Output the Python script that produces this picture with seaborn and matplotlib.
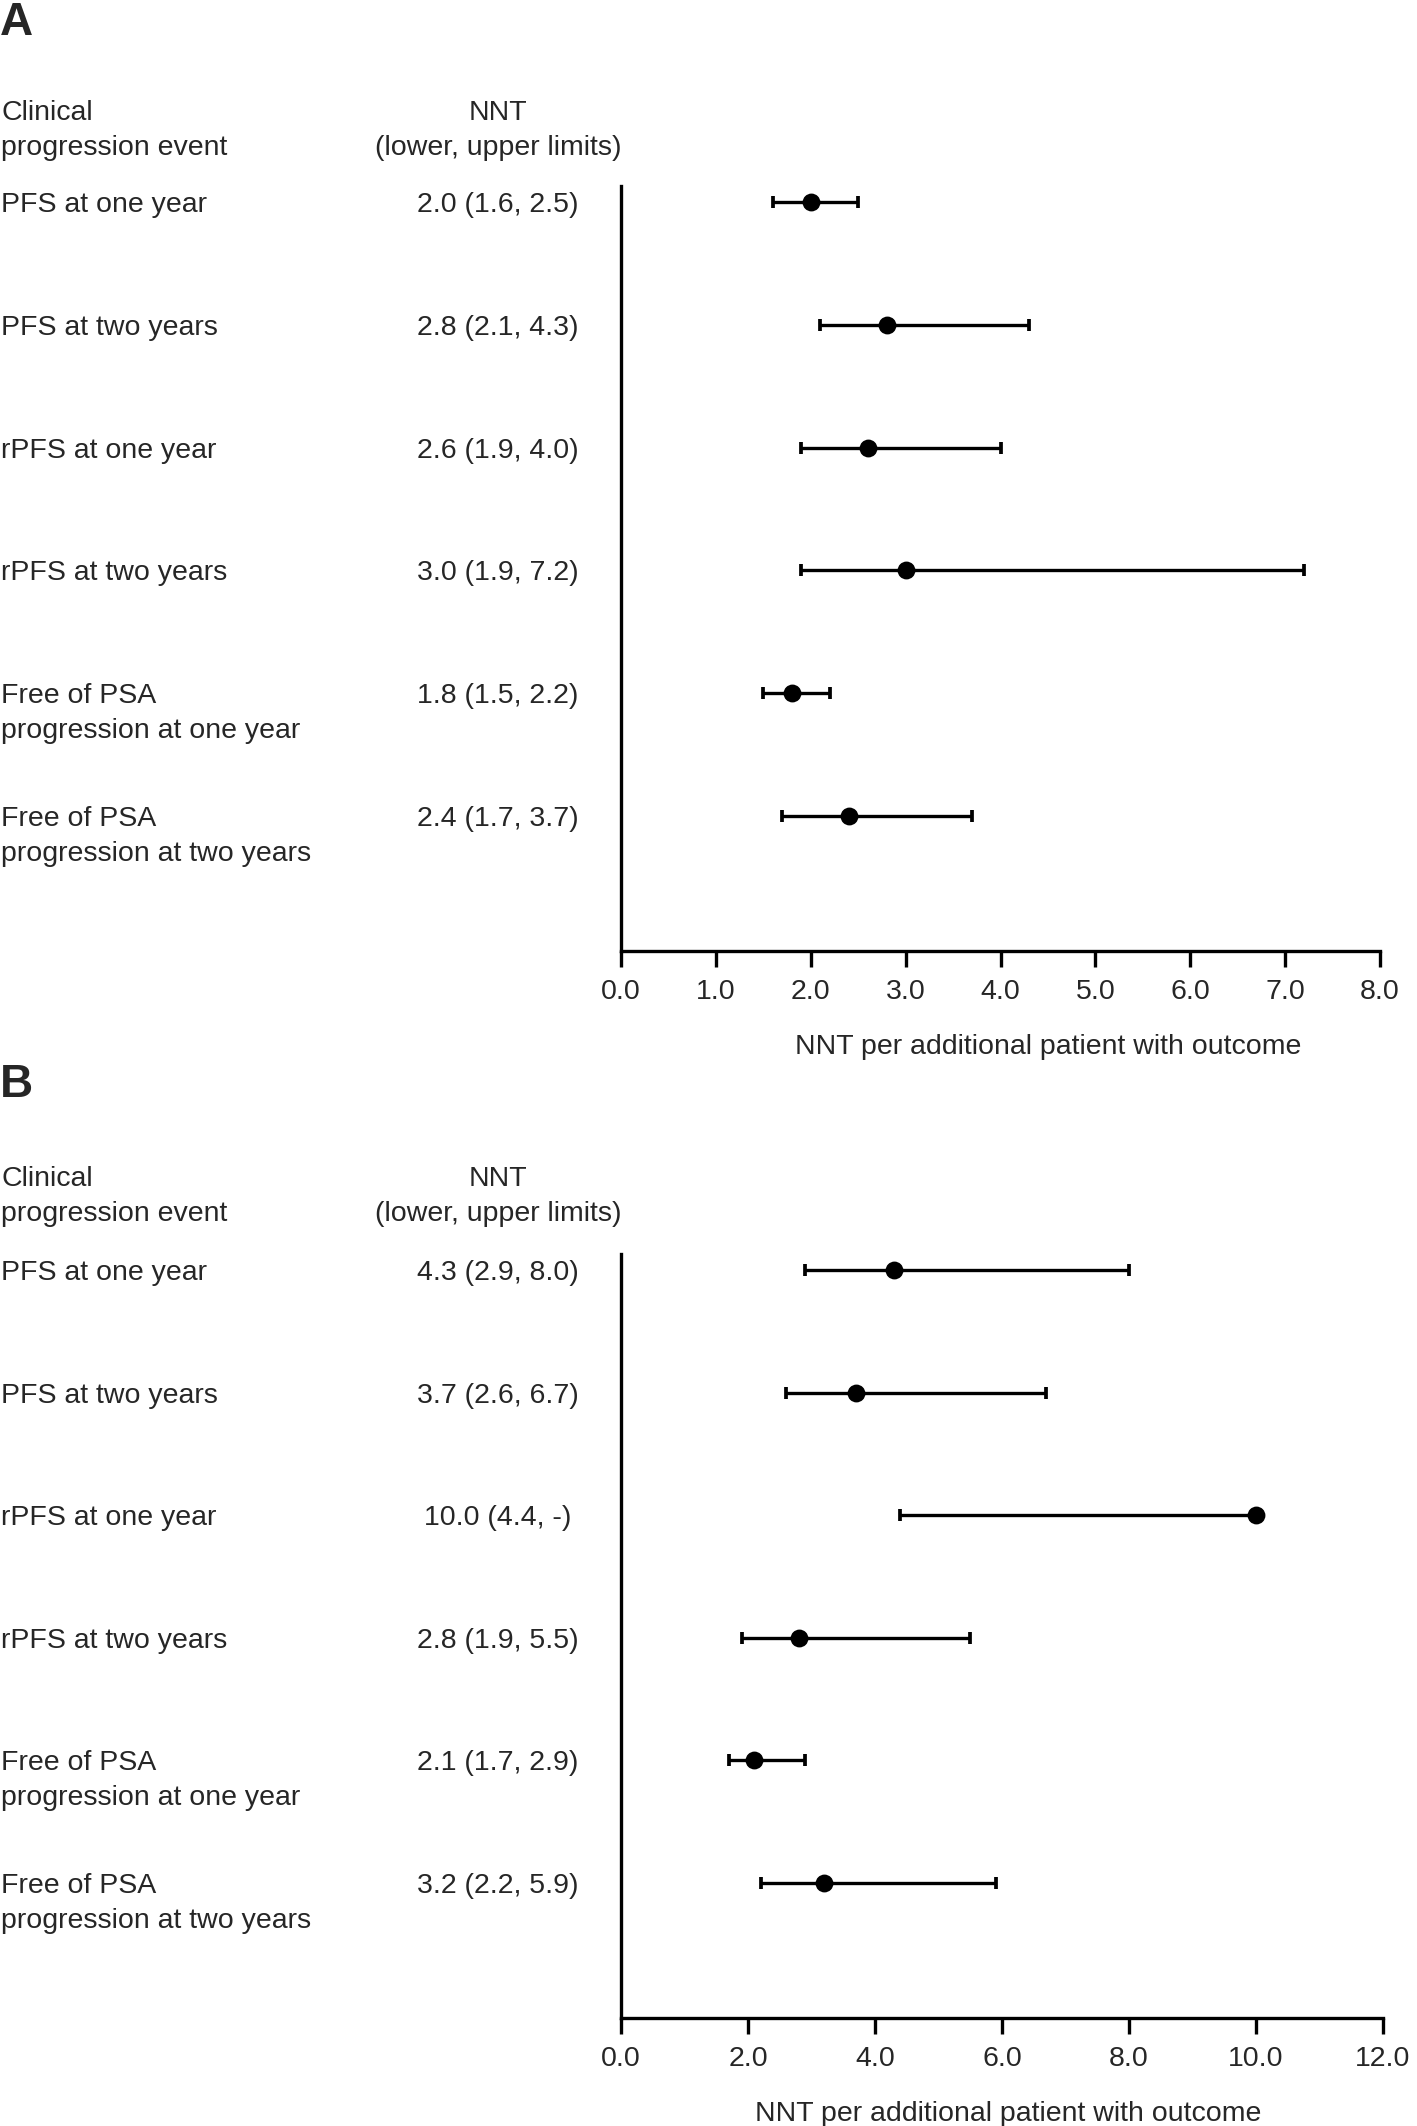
import numpy as np
import pandas as pd
import matplotlib
matplotlib.use('Agg')
import matplotlib.pyplot as plt
import matplotlib.transforms as mtransforms
import seaborn as sns

# 数据
events = ['PFS at one year', 'PFS at two years', 'rPFS at one year',
          'rPFS at two years', 'Free of PSA\nprogression at one year',
          'Free of PSA\nprogression at two years']

a_nnt = [2.0, 2.8, 2.6, 3.0, 1.8, 2.4]
a_lower = [1.6, 2.1, 1.9, 1.9, 1.5, 1.7]
a_upper = [2.5, 4.3, 4.0, 7.2, 2.2, 3.7]

b_nnt = [4.3, 3.7, 10.0, 2.8, 2.1, 3.2]
b_lower = [2.9, 2.6, 4.4, 1.9, 1.7, 2.2]
b_upper = [8.0, 6.7, None, 5.5, 2.9, 5.9]  # rPFS at one year: no upper limit

a_ticks = [0, 1, 2, 3, 4, 5, 6, 7, 8]
b_ticks = [0, 2, 4, 6, 8, 10, 12]

sns.set_style('ticks')
plt.rcParams['font.family'] = ['Liberation Sans', 'DejaVu Sans']
plt.rcParams['font.size'] = 20.5

fig = plt.figure(figsize=(14.17, 21.26), dpi=100)

LW = 2.4
CAP = 8.2            # cap length in points
LINE_OFFSET = 25.2   # points between two text lines
TXT_DROP = 2.2       # small downward nudge for text (points)
DY = 3 / 2126        # same nudge in figure fraction


def fmt_ci(est, lo, hi):
    hi_txt = '-' if hi is None else f'{hi:.1f}'
    return f'{est:.1f} ({lo:.1f}, {hi_txt})'


def draw_panel(rect, letter, letter_y, head_y, est, lower, upper, ticks, xlabel_x):
    ax = fig.add_axes(rect)
    df = pd.DataFrame({'event': events, 'nnt': est, 'lower': lower,
                       'upper': [e if u is None else u for e, u in zip(est, upper)],
                       'has_upper': [u is not None for u in upper],
                       'pos': np.arange(len(events))})

    # 置信区间（线 + 端帽，缺上限的不画右端帽）
    ax.errorbar(df['nnt'], df['pos'],
                xerr=[df['nnt'] - df['lower'], df['upper'] - df['nnt']],
                fmt='none', ecolor='black', elinewidth=LW, capsize=0, zorder=2)
    ax.scatter(df['lower'], df['pos'], marker='|', s=CAP ** 2, linewidths=LW + 0.3,
               color='black', zorder=2)
    up = df[df['has_upper']]
    ax.scatter(up['upper'], up['pos'], marker='|', s=CAP ** 2, linewidths=LW + 0.3,
               color='black', zorder=2)
    sns.scatterplot(data=df, x='nnt', y='pos', ax=ax, color='black', s=165,
                    linewidth=0, zorder=3, legend=False)

    ax.set_xlim(ticks[0], ticks[-1])
    ax.set_ylim(len(events) - 1 + 1.1, -0.13)
    ax.set_xticks(ticks)
    ax.set_xticklabels([f'{t:.1f}' for t in ticks])
    ax.set_yticks([])
    ax.set_ylabel('')
    ax.set_xlabel('NNT per additional patient with outcome')
    ax.xaxis.set_label_coords(xlabel_x, -0.1255)
    ax.xaxis.label.set_va('center')
    sns.despine(ax=ax, top=True, right=True)
    for s in ['left', 'bottom']:
        ax.spines[s].set_linewidth(LW)
        ax.spines[s].set_color('black')
    ax.tick_params(axis='x', length=11.5, width=LW, pad=9, color='black',
                   labelsize=20.5)

    # 左侧文字列
    tr = mtransforms.blended_transform_factory(fig.transFigure, ax.transData)
    for i, row in df.iterrows():
        lines = row['event'].split('\n')
        for k, line in enumerate(lines):
            t = mtransforms.offset_copy(tr, fig=fig, y=-LINE_OFFSET * k - TXT_DROP,
                                        units='points')
            fig.text(0.001, row['pos'], line, transform=t, ha='left', va='center')
        t = mtransforms.offset_copy(tr, fig=fig, y=-TXT_DROP, units='points')
        fig.text(0.3514, row['pos'], fmt_ci(est[i], lower[i], upper[i]),
                 transform=t, ha='center', va='center')

    # 表头
    fig.text(0.001, head_y[0] - DY, 'Clinical', ha='left', va='center')
    fig.text(0.001, head_y[1] - DY, 'progression event', ha='left', va='center')
    fig.text(0.3514, head_y[0] - DY, 'NNT', ha='center', va='center')
    fig.text(0.3514, head_y[1] - DY, '(lower, upper limits)', ha='center', va='center')
    fig.text(0.0, letter_y - DY, letter, ha='left', va='center', fontsize=33,
             fontweight='bold')
    return ax


draw_panel([0.4383, 0.5527, 0.5356, 0.3598], 'A', 0.9906, (0.9483, 0.9318),
           a_nnt, a_lower, a_upper, a_ticks, 0.563)
draw_panel([0.4383, 0.0508, 0.5377, 0.3594], 'B', 0.491, (0.4469, 0.4304),
           b_nnt, b_lower, b_upper, b_ticks, 0.508)

fig.savefig('out.png', dpi=100)
